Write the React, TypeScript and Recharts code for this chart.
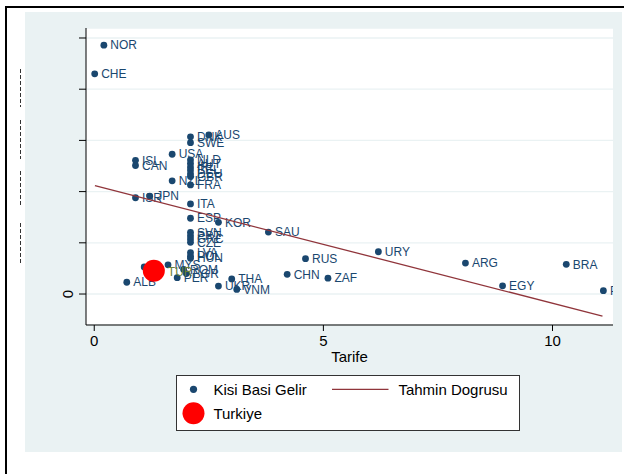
import React from 'react';
import { ScatterChart, Scatter, XAxis, YAxis, CartesianGrid, Legend } from 'recharts';

// Kisi basi gelir (y) vs tarife (x), one entry per country
const countries = [
  'NOR', 'CHE', 'DNK', 'AUS', 'SWE', 'USA', 'ISL', 'CAN',
  'NLD', 'AUT', 'IRL', 'BEL', 'DEU', 'GBR', 'NZL', 'FRA',
  'ISR', 'JPN', 'ITA', 'ESP', 'KOR', 'SVN', 'PRT', 'GRC', 'CZE',
  'LVA', 'POL', 'HUN', 'SAU', 'RUS', 'URY', 'ARG', 'BRA', 'EGY', 'PAK',
  'CHN', 'ZAF', 'THA', 'UKR', 'VNM', 'MYS', 'ROM', 'BGR', 'PER', 'ALB', '',
];
const tarife = [
  0.21, 0.01, 2.1, 2.5, 2.1, 1.7, 0.9, 0.9,
  2.1, 2.1, 2.1, 2.1, 2.1, 2.1, 1.7, 2.1,
  0.9, 1.21, 2.1, 2.1, 2.71, 2.1, 2.1, 2.1, 2.1,
  2.1, 2.1, 2.1, 3.8, 4.61, 6.2, 8.1, 10.3, 8.91, 11.11,
  4.21, 5.1, 3.0, 2.71, 3.11, 1.61, 1.95, 2.01, 1.81, 0.71, 1.09,
];
const gelir = [
  48.6, 43.0, 30.7, 31.05, 29.55, 27.3, 26.1, 25.1,
  26.2, 25.5, 24.8, 24.2, 23.5, 22.95, 22.1, 21.3,
  18.8, 19.1, 17.6, 14.8, 14.0, 12.05, 11.4, 10.75, 10.1,
  8.1, 7.4, 7.0, 12.1, 6.9, 8.25, 6.05, 5.8, 1.6, 0.65,
  3.85, 3.1, 2.95, 1.55, 0.9, 5.7, 4.8, 4.0, 3.2, 2.3, 5.3,
];

const turCountry = ['TUR'];
const turTarife = [1.3];
const turGelir = [4.55];

// fitted line end points
const fitTarife = [0.015, 11.09];
const fitGelir = [21.15, -4.3];

const xTicks = [0, 5, 10];
const yTicks = [0, 10, 20, 30, 40, 50];

const NAVY = '#1a476f';
const MAROON = '#90353b';
const RED = '#ff0000';
const OLIVE = '#6b8036';
const BG = '#eaf2f3';
const FONT = '"Liberation Sans", Arial, sans-serif';

const blueData = countries.map((c, i) => ({ name: c, x: tarife[i], y: gelir[i] }));
const turData = turCountry.map((c, i) => ({ name: c, x: turTarife[i], y: turGelir[i] }));
const fitData = fitTarife.map((x, i) => ({ x, y: fitGelir[i] }));

const BlueDot = (props: any) => {
  const { cx, cy, payload } = props;
  return (
    <g>
      <circle cx={cx} cy={cy} r={3.4} fill={NAVY} />
      {payload.name ? (
        <text x={cx + 6.5} y={cy} dy="0.35em" fontSize={12} fill={NAVY} fontFamily={FONT}>
          {payload.name}
        </text>
      ) : null}
    </g>
  );
};

const TurDot = (props: any) => {
  const { cx, cy, payload } = props;
  return (
    <g>
      <circle cx={cx} cy={cy} r={11} fill={RED} />
      <text x={cx + 14} y={cy + 1.5} dy="0.35em" fontSize={12} fill={OLIVE} fontFamily={FONT}>
        {payload.name}
      </text>
    </g>
  );
};

const YTick = (props: any) => {
  const { x, y, payload } = props;
  if (payload.value !== 0) return <g />;
  return (
    <text x={x - 4} y={y} transform={`rotate(-90, ${x - 4}, ${y})`} textAnchor="middle"
      fontSize={15} fill="#000" fontFamily={FONT}>
      0
    </text>
  );
};

const renderLegend = () => (
  <div style={{ width: 344, height: 56, border: '1px solid #333', background: '#fff', boxSizing: 'border-box', position: 'relative' }}>
    <svg width={344} height={56} style={{ position: 'absolute', left: -1, top: -1 }}>
      <g fontFamily={FONT} fontSize={15} fill="#000">
        <circle cx={17.5} cy={14.3} r={3.6} fill={NAVY} />
        <text x={37.4} y={14.3} dy="0.35em">Kisi Basi Gelir</text>
        <line x1={156} x2={212.5} y1={14.3} y2={14.3} stroke={MAROON} strokeWidth={1.3} />
        <text x={222.4} y={14.3} dy="0.35em">Tahmin Dogrusu</text>
        <circle cx={17.5} cy={38.3} r={11} fill={RED} />
        <text x={37.4} y={38.3} dy="0.35em">Turkiye</text>
      </g>
    </svg>
  </div>
);

export default function App() {
  return (
    <div style={{ position: 'absolute', left: 0, top: 0, width: 624, height: 474, overflow: 'hidden', background: '#fff' }}>
      <div style={{ position: 'absolute', left: 5, top: 6, width: 700, height: 600, borderTop: '2px solid #000', borderLeft: '2px solid #000' }} />
      <div style={{ position: 'absolute', left: 25, top: 12, width: 597, height: 440, background: BG }} />
      <svg width={40} height={474} style={{ position: 'absolute', left: 0, top: 0 }}>
        <g stroke="#333" strokeWidth={1} strokeDasharray="4 2">
          <line x1={20.5} x2={20.5} y1={69} y2={107} />
          <line x1={20.5} x2={20.5} y1={120} y2={159} />
          <line x1={20.5} x2={20.5} y1={171} y2={207} />
          <line x1={20.5} x2={20.5} y1={223} y2={263} />
        </g>
      </svg>
      <div style={{ position: 'absolute', left: 0, top: 0 }}>
        <ScatterChart width={624} height={474} margin={{ top: 28, right: 11, bottom: 119, left: 56 }}>
          <CartesianGrid horizontal vertical={false} fill="#fff" stroke={BG} strokeWidth={1.3} />
          <XAxis type="number" dataKey="x" domain={[-0.18, 11.32]} ticks={xTicks} allowDataOverflow
            height={30} tickSize={6} tickMargin={4} stroke="#000"
            tick={{ fontSize: 15, fill: '#000', fontFamily: FONT }}
            label={{ value: 'Tarife', position: 'insideBottom', offset: -7, fontSize: 15, fill: '#000', fontFamily: FONT }} />
          <YAxis type="number" dataKey="y" domain={[-6.05, 51.95]} ticks={yTicks} allowDataOverflow
            width={30} tickSize={7} stroke="#000" tick={<YTick />} />
          <Legend layout="horizontal" verticalAlign="middle" align="center" content={renderLegend}
            wrapperStyle={{ left: 176, top: 375, width: 344, height: 56 }} />
          <Scatter name="Kisi Basi Gelir" data={blueData} shape={<BlueDot />} isAnimationActive={false} />
          <Scatter name="Tahmin Dogrusu" data={fitData} shape={() => <g />} line={{ stroke: MAROON, strokeWidth: 1.3 }}
            isAnimationActive={false} />
          <Scatter name="Turkiye" data={turData} shape={<TurDot />} isAnimationActive={false} />
        </ScatterChart>
      </div>
    </div>
  );
}
